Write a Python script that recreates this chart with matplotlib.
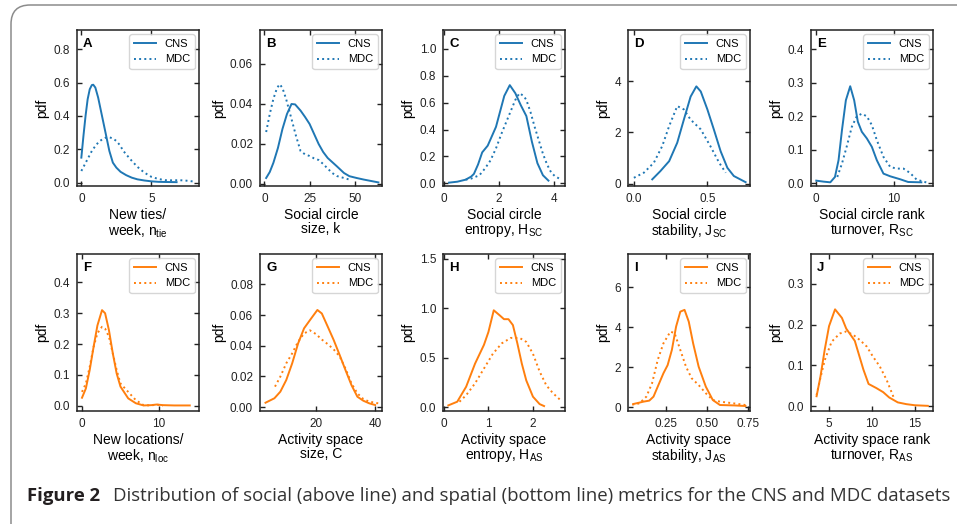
import matplotlib
matplotlib.use("Agg")
import matplotlib.pyplot as plt
from matplotlib.patches import FancyBboxPatch

plt.rcParams['font.family'] = ['Liberation Sans', 'DejaVu Sans']
plt.rcParams['mathtext.default'] = 'regular'

BLUE = '#1f77b4'
ORANGE = '#ff7f0e'

# ---- data (x, pdf) ----
a_cns_x = [0, 0.15, 0.3, 0.45, 0.6, 0.75, 0.85, 1.0, 1.2, 1.4, 1.6, 1.8, 2.0, 2.25, 2.5, 2.8, 3.2, 3.6, 4.0, 4.5, 5.0, 5.5, 6.0, 6.8]
a_cns_y = [0.15, 0.28, 0.40, 0.50, 0.56, 0.585, 0.587, 0.57, 0.51, 0.43, 0.35, 0.27, 0.19, 0.12, 0.09, 0.065, 0.045, 0.03, 0.02, 0.013, 0.008, 0.005, 0.004, 0.003]
a_mdc_x = [0, 0.25, 0.5, 0.75, 1.0, 1.25, 1.5, 1.75, 2.0, 2.25, 2.5, 2.75, 3.0, 3.5, 4.0, 4.5, 5.0, 5.5, 6.0, 6.5, 7.0, 7.5, 8.1]
a_mdc_y = [0.07, 0.11, 0.15, 0.19, 0.22, 0.245, 0.26, 0.27, 0.272, 0.265, 0.25, 0.225, 0.19, 0.14, 0.095, 0.06, 0.035, 0.022, 0.015, 0.014, 0.015, 0.012, 0.006]

b_cns_x = [1, 3, 5, 7.5, 10, 12.5, 15, 17, 20, 22.5, 25, 27.5, 30, 32.5, 35, 40, 44, 47, 51, 55, 59, 63]
b_cns_y = [0.003, 0.006, 0.0106, 0.018, 0.0275, 0.035, 0.040, 0.0398, 0.0367, 0.0335, 0.030, 0.025, 0.020, 0.016, 0.013, 0.0089, 0.0055, 0.0039, 0.003, 0.0022, 0.0015, 0.0008]
b_mdc_x = [1, 3, 5, 7, 8.5, 10, 12, 15, 17.5, 20, 22.5, 25, 27.5, 30, 32.5, 35, 37.5, 40, 44, 47]
b_mdc_y = [0.026, 0.035, 0.0426, 0.048, 0.0499, 0.048, 0.0426, 0.0325, 0.024, 0.0165, 0.0148, 0.014, 0.0128, 0.012, 0.010, 0.0077, 0.0055, 0.004, 0.003, 0.0022]

c_cns_x = [0.2, 0.5, 0.8, 1.0, 1.1, 1.25, 1.4, 1.6, 1.9, 2.2, 2.4, 2.6, 2.8, 3.0, 3.2, 3.4, 3.6, 3.8]
c_cns_y = [0.005, 0.012, 0.027, 0.05, 0.07, 0.14, 0.23, 0.28, 0.42, 0.65, 0.73, 0.67, 0.58, 0.50, 0.31, 0.15, 0.06, 0.02]
c_mdc_x = [0.8, 1.0, 1.3, 1.5, 1.7, 1.9, 2.1, 2.4, 2.6, 2.75, 2.9, 3.0, 3.15, 3.3, 3.45, 3.6, 3.75, 3.9, 4.05, 4.2]
c_mdc_y = [0.027, 0.035, 0.06, 0.11, 0.17, 0.26, 0.37, 0.52, 0.62, 0.67, 0.65, 0.62, 0.53, 0.42, 0.32, 0.22, 0.14, 0.08, 0.05, 0.035]

d_cns_x = [0.125, 0.18, 0.24, 0.295, 0.34, 0.386, 0.425, 0.455, 0.5, 0.545, 0.59, 0.636, 0.68, 0.76]
d_cns_y = [0.17, 0.49, 0.88, 1.6, 2.5, 3.4, 3.8, 3.6, 2.9, 2.1, 1.27, 0.62, 0.30, 0.06]
d_mdc_x = [0.0, 0.068, 0.136, 0.193, 0.24, 0.295, 0.34, 0.386, 0.455, 0.52, 0.58, 0.625]
d_mdc_y = [0.23, 0.43, 0.82, 1.47, 2.25, 3.03, 2.9, 2.5, 2.12, 1.47, 0.82, 0.43]

e_cns_x = [0, 0.94, 1.8, 2.4, 2.86, 3.3, 3.8, 4.36, 4.87, 5.34, 5.85, 6.5, 7.14, 7.78, 8.63, 9.5, 10.8, 11.8, 13.5]
e_cns_y = [0.008, 0.005, 0.003, 0.019, 0.069, 0.159, 0.248, 0.29, 0.248, 0.184, 0.154, 0.134, 0.109, 0.069, 0.029, 0.021, 0.012, 0.004, 0.003]
e_mdc_x = [2.7, 3.3, 3.9, 4.57, 5.2, 5.85, 6.5, 7.14, 7.78, 8.63, 9.5, 10.3, 11.2, 12.05, 12.9, 14.4]
e_mdc_y = [0.019, 0.059, 0.109, 0.169, 0.2, 0.208, 0.2, 0.174, 0.129, 0.079, 0.049, 0.044, 0.044, 0.031, 0.011, 0.001]

f_cns_x = [0, 0.5, 1, 1.5, 2, 2.6, 3, 3.5, 4, 4.5, 5, 6, 7, 8, 9, 9.7, 10.5, 12, 14]
f_cns_y = [0.026, 0.056, 0.116, 0.19, 0.26, 0.31, 0.30, 0.245, 0.17, 0.105, 0.062, 0.024, 0.008, 0.001, 0.002, 0.004, 0.002, 0.001, 0.001]
f_mdc_x = [0, 0.5, 1, 1.5, 2, 2.6, 3, 3.5, 4, 4.5, 5, 6, 7, 8, 9, 9.7, 10.5]
f_mdc_y = [0.045, 0.072, 0.126, 0.19, 0.235, 0.256, 0.25, 0.224, 0.17, 0.116, 0.072, 0.045, 0.018, 0.002, 0.001, 0.004, 0.0]

g_cns_x = [3, 6, 8, 10, 12, 14, 16, 18, 20.5, 22, 24, 26, 28, 30, 32, 34, 36, 38, 40]
g_cns_y = [0.0028, 0.0057, 0.010, 0.0176, 0.0285, 0.0415, 0.0513, 0.0567, 0.0633, 0.061, 0.0524, 0.0437, 0.034, 0.024, 0.0143, 0.0067, 0.0041, 0.0024, 0.0013]
g_mdc_x = [6.2, 8, 10, 12, 14, 16, 18, 20, 22, 24, 26, 28, 30, 32, 34, 36, 38, 40, 42]
g_mdc_y = [0.0133, 0.0198, 0.0285, 0.035, 0.0426, 0.048, 0.050, 0.0476, 0.044, 0.041, 0.0376, 0.033, 0.025, 0.0154, 0.0089, 0.0052, 0.0035, 0.0028, 0.002]

h_cns_x = [0.1, 0.3, 0.5, 0.7, 0.9, 1.0, 1.12, 1.25, 1.35, 1.45, 1.55, 1.65, 1.75, 1.85, 2.0, 2.15, 2.25]
h_cns_y = [0.017, 0.054, 0.206, 0.44, 0.63, 0.76, 0.98, 0.93, 0.89, 0.89, 0.83, 0.645, 0.44, 0.27, 0.105, 0.03, 0.01]
h_mdc_x = [0.35, 0.5, 0.7, 0.9, 1.1, 1.3, 1.5, 1.7, 1.85, 2.0, 2.15, 2.3, 2.45, 2.6]
h_mdc_y = [0.054, 0.12, 0.24, 0.39, 0.54, 0.645, 0.70, 0.70, 0.66, 0.54, 0.36, 0.22, 0.14, 0.078]

i_cns_x = [0.047, 0.11, 0.145, 0.171, 0.197, 0.232, 0.258, 0.284, 0.31, 0.336, 0.362, 0.388, 0.415, 0.449, 0.493, 0.536, 0.58, 0.667, 0.737]
i_cns_y = [0.15, 0.27, 0.32, 0.52, 1.02, 1.69, 2.1, 2.86, 4.03, 4.78, 4.87, 4.28, 3.19, 2.02, 1.02, 0.35, 0.1, 0.08, 0.05]
i_mdc_x = [0.04, 0.084, 0.127, 0.162, 0.197, 0.232, 0.275, 0.301, 0.336, 0.371, 0.406, 0.449, 0.493, 0.536, 0.58, 0.667, 0.737]
i_mdc_y = [0.12, 0.18, 0.52, 1.19, 2.36, 3.19, 3.78, 3.7, 2.86, 2.02, 1.44, 1.1, 0.69, 0.35, 0.27, 0.18, 0.1]

j_cns_x = [3.55, 4, 4.5, 5, 5.7, 6.5, 7, 8, 9, 9.6, 10.5, 11.3, 12, 13, 14, 15, 16.5]
j_cns_y = [0.025, 0.073, 0.139, 0.196, 0.237, 0.216, 0.19, 0.16, 0.09, 0.055, 0.045, 0.035, 0.022, 0.01, 0.0057, 0.003, 0.0016]
j_mdc_x = [3.55, 4.0, 4.5, 5.3, 6.25, 7.0, 7.8, 8.6, 9.4, 10.1, 10.9, 11.7, 12.6]
j_mdc_y = [0.028, 0.07, 0.113, 0.158, 0.178, 0.183, 0.175, 0.162, 0.146, 0.122, 0.098, 0.065, 0.018]

letters = ['A', 'B', 'C', 'D', 'E', 'F', 'G', 'H', 'I', 'J']
xlabels = ['New ties/\nweek, n$_{tie}$', 'Social circle\nsize, k',
           'Social circle\nentropy, H$_{SC}$', 'Social circle\nstability, J$_{SC}$',
           'Social circle rank\nturnover, R$_{SC}$',
           'New locations/\nweek, n$_{loc}$', 'Activity space\nsize, C',
           'Activity space\nentropy, H$_{AS}$', 'Activity space\nstability, J$_{AS}$',
           'Activity space rank\nturnover, R$_{AS}$']
series = [(a_cns_x, a_cns_y, a_mdc_x, a_mdc_y), (b_cns_x, b_cns_y, b_mdc_x, b_mdc_y),
          (c_cns_x, c_cns_y, c_mdc_x, c_mdc_y), (d_cns_x, d_cns_y, d_mdc_x, d_mdc_y),
          (e_cns_x, e_cns_y, e_mdc_x, e_mdc_y), (f_cns_x, f_cns_y, f_mdc_x, f_mdc_y),
          (g_cns_x, g_cns_y, g_mdc_x, g_mdc_y), (h_cns_x, h_cns_y, h_mdc_x, h_mdc_y),
          (i_cns_x, i_cns_y, i_mdc_x, i_mdc_y), (j_cns_x, j_cns_y, j_mdc_x, j_mdc_y)]
xlims = [(-0.31, 8.4), (-2.4, 65), (-0.02, 4.4), (-0.04, 0.79), (-0.68, 15.0),
         (-0.65, 15.2), (1.14, 42.3), (-0.02, 2.72), (0.014, 0.765), (2.9, 17.1)]
ylims = [(-0.02, 0.915), (-0.001, 0.077), (-0.02, 1.14), (-0.09, 6.0), (-0.008, 0.458),
         (-0.017, 0.492), (-0.0026, 0.0998), (-0.04, 1.55), (-0.2, 7.67), (-0.011, 0.372)]
xticks = [[0, 5], [0, 25, 50], [0, 2, 4], [0.0, 0.5], [0, 10],
          [0, 10], [20, 40], [0, 1, 2], [0.25, 0.5, 0.75], [5, 10, 15]]
yticks = [[0, 0.2, 0.4, 0.6, 0.8], [0, 0.02, 0.04, 0.06], [0, 0.2, 0.4, 0.6, 0.8, 1.0],
          [0, 2, 4], [0, 0.1, 0.2, 0.3, 0.4], [0, 0.1, 0.2, 0.3, 0.4],
          [0, 0.02, 0.04, 0.06, 0.08], [0, 0.5, 1.0, 1.5], [0, 2, 4, 6], [0, 0.1, 0.2, 0.3]]

W, H = 957, 524
fig = plt.figure(figsize=(W / 100, H / 100), dpi=100)

# rounded frame around the figure
frame = FancyBboxPatch((11 / W, -20 / H), 1.2, (H - 5 + 20) / H,
                       boxstyle='round,pad=0,rounding_size=0.02',
                       transform=fig.transFigure, fill=False,
                       edgecolor='#8c8c8c', linewidth=1.1, mutation_aspect=W / H)
fig.patches.append(frame)

lefts = [77, 260, 443, 628, 811]
rows = [(30, 186), (254, 411)]
axw = 122

for i in range(10):
    r, c = divmod(i, 5)
    top, bot = rows[r]
    ax = fig.add_axes([lefts[c] / W, (H - bot) / H, axw / W, (bot - top) / H])
    col = BLUE if r == 0 else ORANGE
    cx, cy, mx, my = series[i]
    ax.plot(cx, cy, color=col, lw=1.4, label='CNS')
    ax.plot(mx, my, color=col, lw=1.4, ls=':', label='MDC')
    ax.set_xlim(*xlims[i])
    ax.set_ylim(*ylims[i])
    ax.set_xticks(xticks[i])
    ax.set_yticks(yticks[i])
    ax.tick_params(direction='in', top=True, right=True, length=3.5, width=1,
                   labelsize=8.5, pad=5, colors='#222222')
    for s in ax.spines.values():
        s.set_linewidth(1.1)
        s.set_color('#222222')
    ax.set_ylabel('pdf', fontsize=10, labelpad=3)
    ax.set_xlabel(xlabels[i], fontsize=10, labelpad=2, linespacing=1.05)
    ax.text(0.05, 0.95, letters[i], transform=ax.transAxes, fontsize=9.5,
            fontweight='bold', ha='left', va='top')
    leg = ax.legend(loc='upper right', fontsize=8, frameon=True, fancybox=True,
                    borderaxespad=0.4, handlelength=2.0)
    leg.get_frame().set_edgecolor('#cccccc')

# caption
cap_y = (H - 496) / H
fig.text(27 / W, cap_y, 'Figure 2', fontsize=13.3, fontweight='bold',
         family=['Open Sans', 'DejaVu Sans'], va='center', color='#231f20')
fig.text(113 / W, cap_y,
         'Distribution of social (above line) and spatial (bottom line) metrics for the CNS and MDC datasets',
         fontsize=13.4, family=['Open Sans', 'DejaVu Sans'], va='center', color='#333333')

fig.savefig('out.png', dpi=100)
